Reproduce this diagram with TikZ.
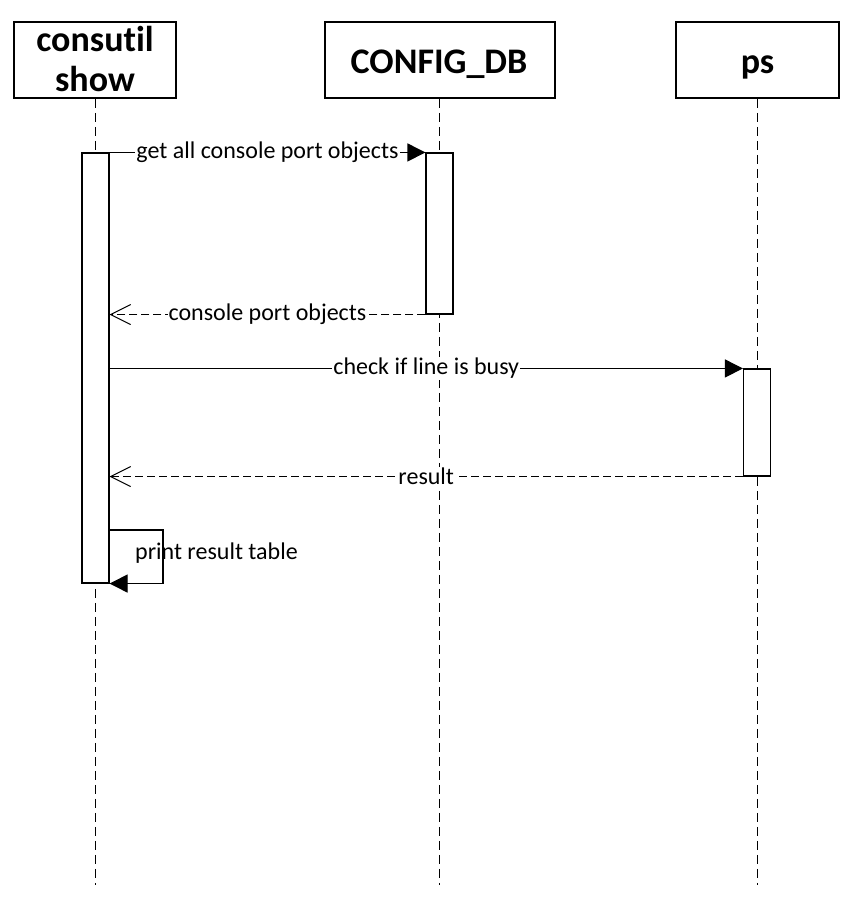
\documentclass[tikz,border=0pt]{standalone}
\usepackage{fontspec}
\setmainfont{Carlito}[Ligatures={NoCommon}]
\usetikzlibrary{arrows.meta}
\begin{document}
\begin{tikzpicture}[x=1pt,y=-1pt,
  head/.style={draw,line width=1.7pt,fill=white,inner sep=0pt,minimum height=76pt},
  htext/.style={anchor=base,inner sep=0pt,font=\fontsize{36}{44}\selectfont\bfseries},
  act/.style={draw,line width=1.1pt,fill=white,minimum width=27pt,inner sep=0pt},
  life/.style={line width=1pt,dash pattern=on 9pt off 5pt},
  msg/.style={line width=1.1pt,-{Triangle[length=18pt,width=18pt]}},
  ret/.style={line width=1.1pt,dash pattern=on 8pt off 4pt,
    -{Straight Barb[length=20pt,width=20pt,line width=1pt]}},
  lbl/.style={fill=white,inner sep=1pt,font=\fontsize{24}{28}\selectfont}]
\useasboundingbox (0,0) rectangle (858,920);
% headers
\node[head,minimum width=162pt] (h1) at (95,60) {};
\node[head,minimum width=230pt] (h2) at (440,60) {};
\node[head,minimum width=163pt] (h3) at (757.5,60) {};
\node[htext] (t1a) at (95,52) {consutil};
\node[htext] (t1b) at (95,92) {show};
\node[htext] (t2) at (439,74) {CONFIG\_DB};
\node[htext] (t3) at (757.5,74) {ps};
% lifeline ends
\coordinate (e1) at (95,885);
\coordinate (e2) at (439.5,885);
\coordinate (e3) at (757,885);
\draw[life] (h1.south) -- (e1);
\draw[life] (h2.south -| e2) -- (e2);
\draw[life] (h3.south -| e3) -- (e3);
% activations
\node[act,minimum height=430pt] (a1) at (95.5,368) {};
\node[act,minimum height=161pt] (a2) at (439.5,233.5) {};
\node[act,minimum height=107pt] (a3) at (757,422.5) {};
% messages
\draw[msg] (a1.north east) -- (a2.north west)
  node[midway,lbl] {get all console port objects};
\draw[ret] (a2.south west) -- (a1.east |- a2.south west)
  node[midway,lbl] {console port objects};
\draw[msg] (a1.east |- a3.north west) -- (a3.north west)
  node[midway,lbl] {check if line is busy};
\draw[ret] (a3.south west) -- (a1.east |- a3.south west)
  node[midway,lbl] {result};
% self message
\coordinate (s1) at (109,530);
\coordinate (s2) at (163,530);
\draw[msg] (a1.east |- s1) -- (s2) |- (a1.south east);
\node[anchor=west,inner sep=0pt,font=\fontsize{24}{28}\selectfont] (pl) at (135,553) {print result table};
\end{tikzpicture}
\end{document}
